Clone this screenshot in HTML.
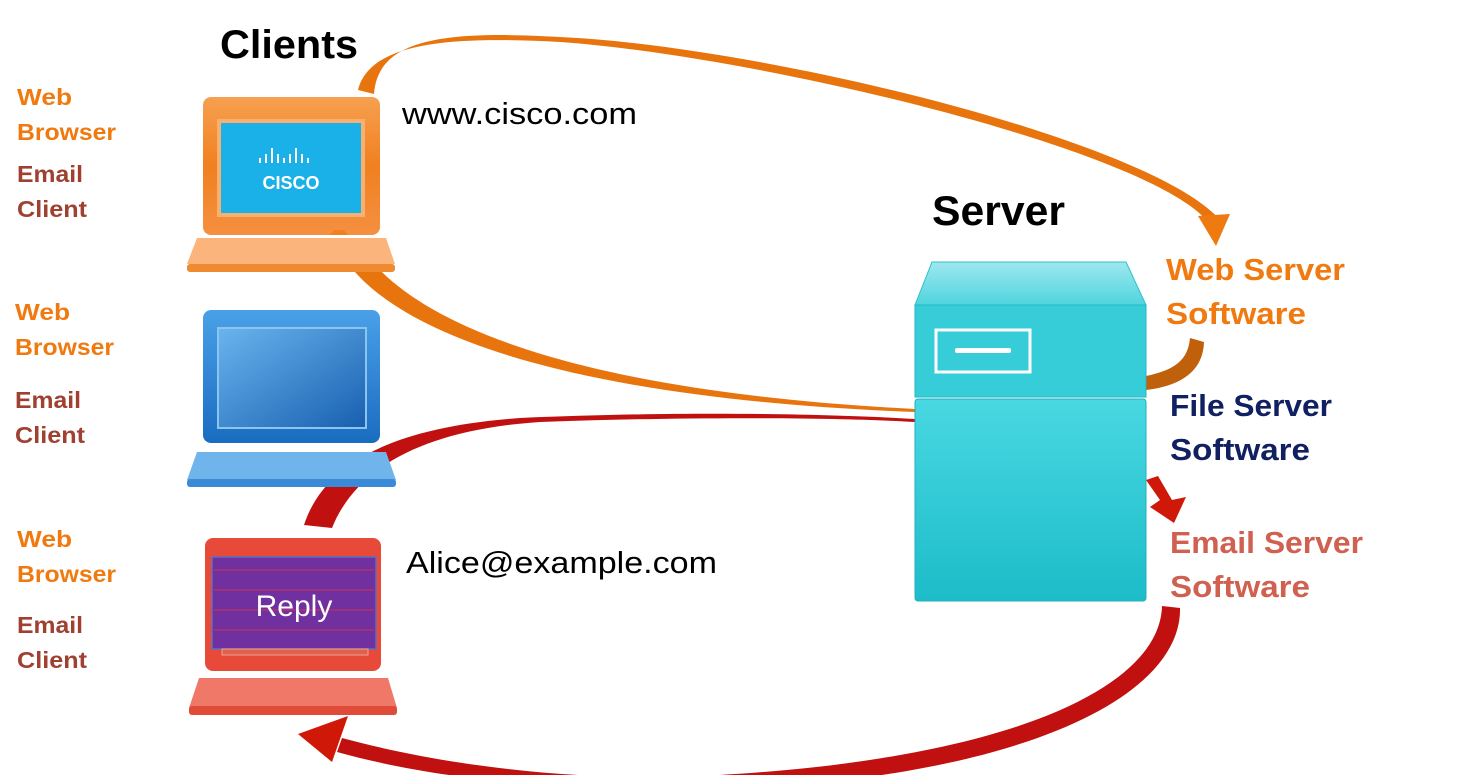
<!DOCTYPE html>
<html><head><meta charset="utf-8"><style>
body{margin:0;width:1472px;height:775px;overflow:hidden;background:#fff;}
svg{display:block}
text{font-family:"Liberation Sans",sans-serif;}
</style></head><body>
<svg width="1472" height="775" viewBox="0 0 1472 775">
<defs>
<linearGradient id="og" x1="0" y1="0" x2="0" y2="1"><stop offset="0" stop-color="#f7a050"/><stop offset=".5" stop-color="#f08020"/><stop offset="1" stop-color="#f59040"/></linearGradient>
<linearGradient id="bg" x1="0" y1="0" x2="0" y2="1"><stop offset="0" stop-color="#4aa0e8"/><stop offset="1" stop-color="#1a6cc0"/></linearGradient>
<linearGradient id="bs" x1="0" y1="0" x2="1" y2="1"><stop offset="0" stop-color="#6ab4ee"/><stop offset="1" stop-color="#1860b0"/></linearGradient>
<linearGradient id="cg" x1="0" y1="0" x2="0" y2="1"><stop offset="0" stop-color="#9ee8ee"/><stop offset="1" stop-color="#4fd4de"/></linearGradient>
<linearGradient id="cb" x1="0" y1="0" x2="0" y2="1"><stop offset="0" stop-color="#48d8e2"/><stop offset="1" stop-color="#1cbcc8"/></linearGradient>
</defs>
<!-- orange top arc -->
<path d="M358,90 C370,42 450,36 560,42 C760,56 1150,150 1208,222 L1220,220 C1150,140 760,46 560,37 C440,30 378,40 374,94 Z" fill="#e8740e"/>
<polygon points="1198,216 1230,214 1216,246" fill="#ee7a10"/>
<!-- orange lower arc -->
<path d="M355,272 C420,345 600,400 915,412 L915,409 C620,394 445,340 376,266 Z" fill="#e8740e"/>
<path d="M1146,376 C1175,370 1188,360 1190,338 L1204,342 C1203,372 1180,386 1146,390 Z" fill="#c0600a"/>
<!-- red upper arc -->
<path d="M304,525 C322,470 380,428 520,418 C700,410 850,415 915,419 L915,422 C850,418 700,416 540,422 C420,430 355,470 332,528 Z" fill="#c01010"/>
<path d="M1146,480 L1160,500 L1150,507 L1174,523 L1186,497 L1172,500 L1158,476 Z" fill="#d01808"/>
<!-- red bottom arc -->
<path d="M1162,606 C1160,690 1000,762 700,776 C560,782 430,762 342,738 L337,752 C430,778 560,792 700,790 C1010,782 1182,700 1180,608 Z" fill="#c01010"/>
<polygon points="298,734 348,716 332,762" fill="#d01808"/>

<!-- Orange laptop -->
<rect x="203" y="97" width="177" height="138" rx="8" fill="url(#og)"/>
<rect x="217" y="119" width="148" height="98" fill="#f8b070"/>
<rect x="221" y="123" width="140" height="90" fill="#1ab0e8"/>
<polygon points="330,235 348,235 344,230 334,230" fill="#f08020"/>
<polygon points="197,238 386,238 395,264 187,264" fill="#fbb57c"/>
<rect x="187" y="264" width="208" height="8" rx="3" fill="#f08a30"/>
<g fill="#fff"><rect x="259" y="158" width="2" height="5"/><rect x="265" y="154" width="2" height="9"/><rect x="271" y="148" width="2" height="15"/><rect x="277" y="154" width="2" height="9"/><rect x="283" y="158" width="2" height="5"/><rect x="289" y="154" width="2" height="9"/><rect x="295" y="148" width="2" height="15"/><rect x="301" y="154" width="2" height="9"/><rect x="307" y="158" width="2" height="5"/></g>
<text x="291" y="189" font-size="18" font-weight="bold" fill="#fff" text-anchor="middle">CISCO</text>

<!-- Blue laptop -->
<rect x="203" y="310" width="177" height="133" rx="8" fill="url(#bg)"/>
<rect x="218" y="328" width="148" height="100" fill="url(#bs)" stroke="#8cc4f0" stroke-width="2"/>
<polygon points="197,452 386,452 396,480 187,480" fill="#70b4ec"/>
<rect x="187" y="479" width="209" height="8" rx="3" fill="#3a8ad8"/>

<!-- Red laptop -->
<rect x="205" y="538" width="176" height="133" rx="8" fill="#e84a3a"/>
<rect x="212" y="557" width="164" height="92" fill="#7030a0" stroke="#5a70c0" stroke-width="1.5"/>
<g stroke="#c03060" stroke-width="1.2"><line x1="214" y1="570" x2="374" y2="570"/><line x1="214" y1="590" x2="374" y2="590"/><line x1="214" y1="610" x2="374" y2="610"/><line x1="214" y1="630" x2="374" y2="630"/></g>
<rect x="222" y="649" width="146" height="6" fill="#e06050" stroke="#f0a090"/>
<text x="294" y="616" font-size="30" fill="#fff" text-anchor="middle">Reply</text>
<polygon points="199,678 388,678 397,708 189,708" fill="#f07868"/>
<rect x="189" y="706" width="208" height="9" rx="3" fill="#e04a38"/>

<!-- Server -->
<polygon points="932,262 1126,262 1146,305 915,305" fill="url(#cg)" stroke="#2cc0cc"/>
<rect x="915" y="305" width="231" height="92" fill="#36ccd8" stroke="#22b8c4"/>
<rect x="936" y="330" width="94" height="42" fill="none" stroke="#fff" stroke-width="3"/>
<rect x="955" y="348" width="56" height="5" rx="2" fill="#fff"/>
<rect x="915" y="399" width="231" height="202" rx="3" fill="url(#cb)" stroke="#22b0bc"/>

<!-- Text -->
<text x="220" y="58" font-size="40" font-weight="bold" fill="#000" textLength="138" lengthAdjust="spacingAndGlyphs">Clients</text>
<text x="932" y="225" font-size="42" font-weight="bold" fill="#000" textLength="133" lengthAdjust="spacingAndGlyphs">Server</text>
<text x="402" y="124" font-size="31" fill="#000" textLength="235" lengthAdjust="spacingAndGlyphs">www.cisco.com</text>
<text x="406" y="573" font-size="31" fill="#000" textLength="311" lengthAdjust="spacingAndGlyphs">Alice@example.com</text>
<g font-size="23" font-weight="bold">
<text x="17" y="105" fill="#f07a10" textLength="55" lengthAdjust="spacingAndGlyphs">Web</text><text x="17" y="140" fill="#f07a10" textLength="99" lengthAdjust="spacingAndGlyphs">Browser</text>
<text x="17" y="182" fill="#a04030" textLength="66" lengthAdjust="spacingAndGlyphs">Email</text><text x="17" y="217" fill="#a04030" textLength="70" lengthAdjust="spacingAndGlyphs">Client</text>
<text x="15" y="320" fill="#f07a10" textLength="55" lengthAdjust="spacingAndGlyphs">Web</text><text x="15" y="355" fill="#f07a10" textLength="99" lengthAdjust="spacingAndGlyphs">Browser</text>
<text x="15" y="408" fill="#a04030" textLength="66" lengthAdjust="spacingAndGlyphs">Email</text><text x="15" y="443" fill="#a04030" textLength="70" lengthAdjust="spacingAndGlyphs">Client</text>
<text x="17" y="547" fill="#f07a10" textLength="55" lengthAdjust="spacingAndGlyphs">Web</text><text x="17" y="582" fill="#f07a10" textLength="99" lengthAdjust="spacingAndGlyphs">Browser</text>
<text x="17" y="633" fill="#a04030" textLength="66" lengthAdjust="spacingAndGlyphs">Email</text><text x="17" y="668" fill="#a04030" textLength="70" lengthAdjust="spacingAndGlyphs">Client</text>
</g>
<g font-size="31" font-weight="bold">
<text x="1166" y="280" fill="#f07a10" textLength="179" lengthAdjust="spacingAndGlyphs">Web Server</text><text x="1166" y="324" fill="#f07a10" textLength="140" lengthAdjust="spacingAndGlyphs">Software</text>
<text x="1170" y="416" fill="#102060" textLength="162" lengthAdjust="spacingAndGlyphs">File Server</text><text x="1170" y="460" fill="#102060" textLength="140" lengthAdjust="spacingAndGlyphs">Software</text>
<text x="1170" y="553" fill="#d06050" textLength="193" lengthAdjust="spacingAndGlyphs">Email Server</text><text x="1170" y="597" fill="#d06050" textLength="140" lengthAdjust="spacingAndGlyphs">Software</text>
</g>
</svg>
</body></html>
